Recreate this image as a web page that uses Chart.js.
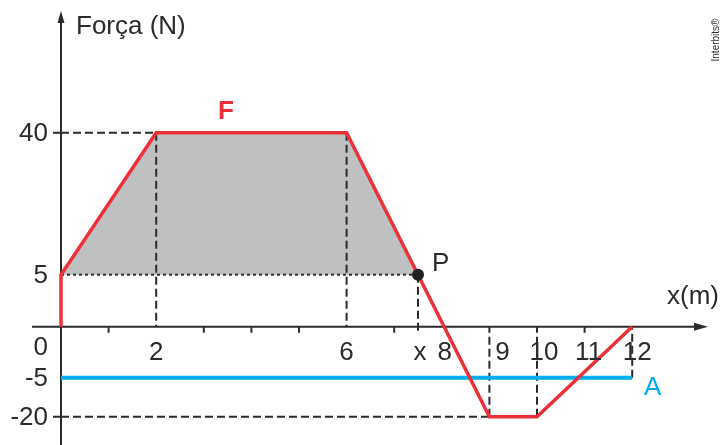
<!DOCTYPE html>
<html>
<head>
<meta charset="utf-8">
<script src="https://cdn.jsdelivr.net/npm/chart.js@4.4.1/dist/chart.umd.min.js"></script>
<style>
  html, body { margin: 0; padding: 0; background: #fff; }
  #grafico { display: block; }
</style>
</head>
<body>
<canvas id="grafico" width="720" height="445"></canvas>
<script>
// curva F (x em m, força em N)
var forcaX = [0, 0, 2, 6, 9, 10, 12];
var forcaN = [0, 5, 40, 40, -20, -20, 0];
// área sombreada acima de 5 N
var areaX = [0, 2, 6, 7.5];
var areaN = [5, 40, 40, 5];
// ponto P
var pontoX = [7.5];
var pontoN = [5];
// reta A
var retaX = [0, 12];
var retaN = [-5, -5];

var yTicks = [40, 5, 0, -5, -20];
var xTicks = [2, 6, 7.5, 8, 9, 10, 11, 12];
var xTickLabels = ['2', '6', 'x', '8', '9', '10', '11', '12'];
var xMenores = [1, 3, 4, 5, 7, 11];

// o eixo vertical do desenho não é linear: nós da escala
var nosReal = [-20, -5, 0, 5, 40];
var nosTela = [-90, -51, 0, 52, 194];

function fy(v) {
  var i = 0;
  if (v <= nosReal[0]) i = 0;
  else if (v >= nosReal[nosReal.length - 1]) i = nosReal.length - 2;
  else while (v > nosReal[i + 1]) i++;
  var t = (v - nosReal[i]) / (nosReal[i + 1] - nosReal[i]);
  return nosTela[i] + t * (nosTela[i + 1] - nosTela[i]);
}

function pontos(xs, ns) {
  return xs.map(function (x, i) { return { x: x, y: fy(ns[i]) }; });
}

function seg(x1, n1, x2, n2) {
  return pontos([x1, x2], [n1, n2]);
}

var tracejadas = [
  seg(0, 40, 6, 40),
  seg(2, 40, 2, 0),
  seg(6, 40, 6, 0),
  seg(7.5, 5, 7.5, -0.6),
  seg(9, -20, 9, 0),
  seg(10, -20, 10, 0),
  seg(12, -5, 12, 0),
  seg(0, -20, 9, -20)
];

var corTexto = '#2b2b2b';
var fonte = '"Liberation Sans", Arial, sans-serif';

var datasets = [
  { data: pontos(pontoX, pontoN), pointRadius: 6, pointBackgroundColor: '#222', pointBorderWidth: 0, showLine: false },
  { data: pontos(forcaX, forcaN), borderColor: '#ec3038', borderWidth: 3.5, showLine: true, borderJoinStyle: 'miter' },
  { data: pontos(retaX, retaN), borderColor: '#00adef', borderWidth: 4, showLine: true },
  { data: seg(0, 5, 7.5, 5), borderColor: '#2b2b2b', borderWidth: 2, borderDash: [3, 3], showLine: true }
];
tracejadas.forEach(function (d) {
  datasets.push({ data: d, borderColor: '#2b2b2b', borderWidth: 2, borderDash: [8, 4], showLine: true });
});
datasets.push({
  data: pontos(areaX, areaN), borderWidth: 0, backgroundColor: '#bfc0c2',
  fill: { value: fy(5) }, showLine: true, isArea: true
});

var eixos = {
  id: 'eixos',
  afterDatasetDraw: function (chart, args) {
    if (!chart.data.datasets[args.index].isArea) return;
    var ctx = chart.ctx, xs = chart.scales.x, ys = chart.scales.y;
    var x0 = xs.getPixelForValue(0), y0 = ys.getPixelForValue(0);
    ctx.save();
    ctx.strokeStyle = '#2b2b2b';
    ctx.fillStyle = '#2b2b2b';
    ctx.lineWidth = 2;
    ctx.beginPath();
    ctx.moveTo(x0, 445); ctx.lineTo(x0, 20);
    ctx.moveTo(32, y0); ctx.lineTo(698, y0);
    // marcas
    xMenores.forEach(function (v) {
      var p = xs.getPixelForValue(v);
      ctx.moveTo(p, y0); ctx.lineTo(p, y0 + 6);
    });
    [40, -20].forEach(function (v) {
      var p = ys.getPixelForValue(fy(v));
      ctx.moveTo(x0 - 8, p); ctx.lineTo(x0, p);
    });
    ctx.stroke();
    // setas
    ctx.beginPath();
    ctx.moveTo(x0, 11); ctx.lineTo(x0 - 3.5, 23); ctx.lineTo(x0 + 3.5, 23); ctx.closePath();
    ctx.moveTo(708, y0); ctx.lineTo(694, y0 - 4); ctx.lineTo(694, y0 + 4); ctx.closePath();
    ctx.fill();
    ctx.restore();
  },
  afterDraw: function (chart) {
    var ctx = chart.ctx, xs = chart.scales.x, ys = chart.scales.y;
    var y0 = ys.getPixelForValue(0);
    ctx.save();
    ctx.fillStyle = corTexto;
    ctx.font = '26px ' + fonte;
    ctx.textBaseline = 'middle';
    ctx.textAlign = 'right';
    yTicks.forEach(function (v) {
      var p = v === 0 ? y0 + 21 : ys.getPixelForValue(fy(v)) + 1;
      ctx.fillText(String(v), 48, p);
    });
    ctx.textAlign = 'center';
    var ajuste = { 7.5: 2, 8: 3, 9: 13, 10: 7, 11: 4, 12: 5 };
    xTicks.forEach(function (v, i) {
      ctx.fillText(xTickLabels[i], xs.getPixelForValue(v) + (ajuste[v] || 0), y0 + 26);
    });
    ctx.textAlign = 'left';
    ctx.fillText('Força (N)', 76, 27);
    ctx.fillText('x(m)', 667, 297);
    ctx.fillText('P', 432, 264);
    ctx.fillStyle = '#00adef';
    ctx.fillText('A', 644, 388);
    ctx.fillStyle = '#ec3038';
    ctx.font = 'bold 26px ' + fonte;
    ctx.fillText('F', 218, 112);
    ctx.fillStyle = corTexto;
    ctx.font = '10px ' + fonte;
    ctx.translate(716, 40);
    ctx.rotate(-Math.PI / 2);
    ctx.textAlign = 'center';
    ctx.fillText('Interbits®', 0, 0);
    ctx.restore();
  }
};

var unidade = 47.6, origem = 61, zeroY = 326.7;

new Chart(document.getElementById('grafico'), {
  type: 'scatter',
  data: { datasets: datasets },
  options: {
    responsive: false,
    animation: false,
    layout: { padding: 0, autoPadding: false },
    elements: { point: { radius: 0, hoverRadius: 0 }, line: { tension: 0 } },
    scales: {
      x: { type: 'linear', display: false, min: -origem / unidade, max: (720 - origem) / unidade },
      y: { type: 'linear', display: false, min: zeroY - 445, max: zeroY }
    },
    plugins: { legend: { display: false }, tooltip: { enabled: false } }
  },
  plugins: [eixos]
});
</script>
</body>
</html>
